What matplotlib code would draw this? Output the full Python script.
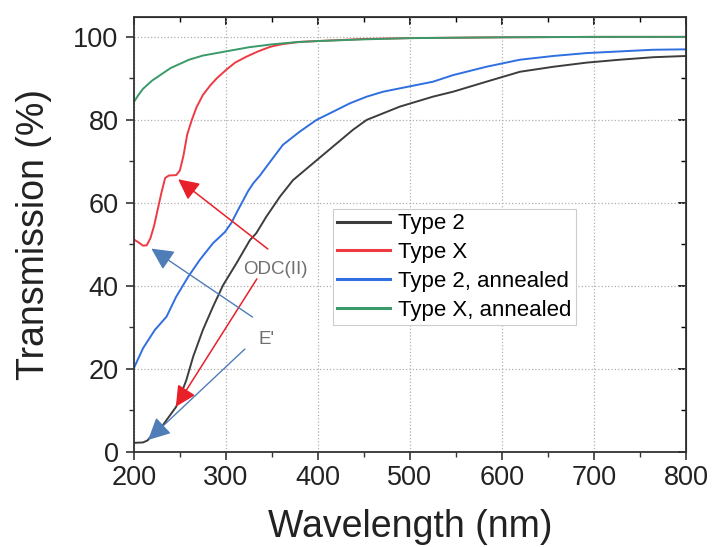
import numpy as np
import matplotlib
matplotlib.use('Agg')
import matplotlib.pyplot as plt
from matplotlib.ticker import MultipleLocator

plt.rcParams['font.family'] = ['Liberation Sans', 'DejaVu Sans']

# transmission spectra, wavelength (nm) vs transmission (%)
wl_type2 = [200, 210, 215, 217, 230, 246, 257, 264.5, 275, 286, 297, 311.6, 326, 333, 344,
            358.7, 373, 395, 416.5, 438, 453, 471, 489, 507, 525, 547, 583, 619.6, 655.8,
            692, 728, 764.5, 800]
tr_type2 = [2.2, 2.3, 2.8, 3.4, 6.0, 10.9, 17.3, 23.0, 29.4, 35.0, 40.2, 45.5, 51.0, 52.7, 56.7,
            61.5, 65.5, 69.6, 73.6, 77.6, 80.0, 81.6, 83.2, 84.4, 85.6, 86.8, 89.2, 91.6, 92.8,
            93.8, 94.5, 95.1, 95.4]

wl_typex = [200, 205, 210, 214, 218, 222, 226, 230, 234, 238, 246, 250, 254, 258, 263, 268,
            275, 283, 290, 300, 310, 322, 335, 348, 360, 380, 400, 450, 500, 600, 700, 800]
tr_typex = [51.2, 50.5, 49.7, 49.8, 51.5, 54.5, 58.5, 62.5, 66.0, 66.6, 66.7, 67.8, 71.5, 76.5,
            80.0, 83.0, 86.0, 88.3, 90.0, 92.0, 93.8, 95.2, 96.5, 97.6, 98.2, 98.8, 99.0, 99.5,
            99.7, 99.9, 100.0, 100.0]

wl_type2_ann = [200, 210, 222.8, 235.5, 246, 259, 271.7, 286, 299, 306, 312, 318, 324, 330,
                337, 345, 362, 380.4, 398.5, 416.7, 434.8, 453, 471, 489, 507, 525, 547, 583,
                619.6, 655.8, 692, 728, 764.5, 800]
tr_type2_ann = [20.2, 25.0, 29.4, 32.6, 37.4, 42.2, 46.3, 50.3, 53.0, 55.2, 57.8, 60.3, 62.8,
                64.8, 66.6, 69.0, 74.0, 77.2, 80.0, 82.0, 84.0, 85.6, 86.8, 87.6, 88.4, 89.2,
                90.8, 92.8, 94.5, 95.4, 96.1, 96.5, 96.9, 97.0]

wl_typex_ann = [200, 205, 210, 220, 230, 240, 250, 260, 275, 300, 325, 350, 375, 400, 450,
                500, 600, 700, 800]
tr_typex_ann = [84.3, 86.0, 87.5, 89.5, 91.0, 92.5, 93.5, 94.5, 95.5, 96.5, 97.5, 98.2, 98.7,
                99.0, 99.4, 99.7, 99.9, 100.0, 100.0]

labels = ['Type 2', 'Type X', 'Type 2, annealed', 'Type X, annealed']
colors = ['#3d3d3d', '#ee3a42', '#2f6fe0', '#3a9a6a']

fig = plt.figure(figsize=(7.12, 5.47), dpi=100)
ax = fig.add_axes([0.188, 0.1737, 0.7755, 0.7953])

series = [(wl_type2, tr_type2), (wl_typex, tr_typex),
          (wl_type2_ann, tr_type2_ann), (wl_typex_ann, tr_typex_ann)]
for (x, y), lab, c in zip(series, labels, colors):
    ax.plot(x, y, color=c, lw=1.4, label=lab)

# defect band arrows
red_arrows = [((345.6, 48.9), (248.2, 65.7)), ((333.7, 41.7), (245.6, 10.9))]
blue_arrows = [((329, 32.5), (219, 49.0)), ((320.6, 24.8), (215.5, 2.9))]
for tail, head in red_arrows:
    ax.annotate('', xy=head, xytext=tail,
                arrowprops=dict(arrowstyle='-|>,head_length=0.9,head_width=0.45',
                                color='#e8202a', lw=1.1, mutation_scale=14,
                                shrinkA=0, shrinkB=0))
for tail, head in blue_arrows:
    ax.annotate('', xy=head, xytext=tail,
                arrowprops=dict(arrowstyle='-|>,head_length=0.9,head_width=0.45',
                                color='#4f7db8', lw=1.0, mutation_scale=15,
                                shrinkA=0, shrinkB=0))
ax.text(318.5, 44, 'ODC(II)', fontsize=13.5, color='#707070', va='center', ha='left')
ax.text(335, 27, "E'", fontsize=13.5, color='#707070', va='center', ha='left')

ax.set_xlim(200, 800)
ax.set_ylim(0, 104.8)
ax.xaxis.set_major_locator(MultipleLocator(100))
ax.xaxis.set_minor_locator(MultipleLocator(50))
ax.yaxis.set_major_locator(MultipleLocator(20))
ax.yaxis.set_minor_locator(MultipleLocator(10))
ax.grid(True, which='major', ls=':', color='#b0b0b0', lw=0.9)

ax.tick_params(axis='both', which='major', labelsize=19.5, length=6, width=1.2,
               direction='out', color='#333333', labelcolor='#222222')
ax.tick_params(axis='y', which='major', pad=5)
ax.tick_params(axis='both', which='minor', length=3.5, width=1.0, direction='out',
               color='#333333')
for sp in ax.spines.values():
    sp.set_linewidth(1.3)
    sp.set_color('#333333')

# mirrored ticks on the top and right spines, pointing inward
axt = ax.secondary_xaxis('top')
axt.xaxis.set_major_locator(MultipleLocator(100))
axt.xaxis.set_minor_locator(MultipleLocator(50))
axt.tick_params(which='major', direction='in', length=6, width=1.2, labeltop=False)
axt.tick_params(which='minor', direction='in', length=3.5, width=1.0)
axr = ax.secondary_yaxis('right')
axr.yaxis.set_major_locator(MultipleLocator(20))
axr.yaxis.set_minor_locator(MultipleLocator(10))
axr.tick_params(which='major', direction='in', length=6, width=1.2, labelright=False)
axr.tick_params(which='minor', direction='in', length=3.5, width=1.0)

ax.set_xlabel('Wavelength (nm)', fontsize=27, color='#222222', labelpad=13)
ax.set_ylabel('Transmission (%)', fontsize=27, color='#222222', labelpad=15)

leg = ax.legend(loc='upper left', bbox_to_anchor=(0.3605, 0.5586), fontsize=16,
                frameon=True, fancybox=False, edgecolor='#cccccc', framealpha=1,
                borderaxespad=0, handlelength=2.35, labelspacing=0.35, borderpad=0.2,
                handletextpad=0.4)
leg.get_frame().set_linewidth(0.8)
for line in leg.get_lines():
    line.set_linewidth(2.2)

fig.savefig('out.png', dpi=100)
